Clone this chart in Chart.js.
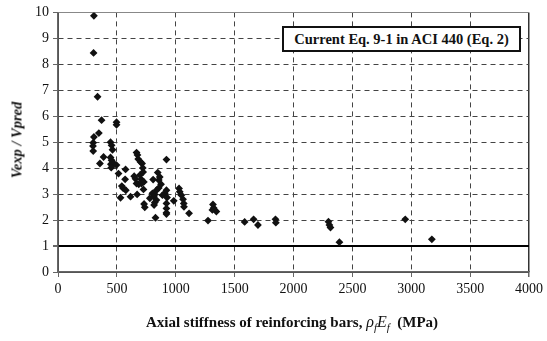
<!DOCTYPE html>
<html><head><meta charset="utf-8">
<script src="https://cdn.jsdelivr.net/npm/chart.js@4/dist/chart.umd.min.js"></script>
<style>
html,body{margin:0;padding:0;background:#fff;}
#wrap{position:relative;width:547px;height:341px;}
#c{position:absolute;left:0;top:0;}
.ytitle{position:absolute;left:17px;top:140px;transform:translate(-50%,-50%) rotate(-90deg);font:bold italic 14.5px "Liberation Serif",serif;color:#111;white-space:nowrap;}
.xtitle{position:absolute;left:292px;top:323px;transform:translate(-50%,-50%);font:bold 15px "Liberation Serif",serif;color:#111;white-space:nowrap;}
.xtitle i{font-weight:normal;font-size:16px;}
.xtitle sub{font-size:11px;font-style:italic;font-weight:normal;}
.legend{position:absolute;left:282px;top:26px;width:235px;height:22px;border:2px solid #111;background:#fff;font:bold 14.5px "Liberation Serif",serif;color:#111;text-align:center;line-height:22px;white-space:nowrap;}
</style></head>
<body><div id="wrap"><canvas id="c" width="547" height="341"></canvas>
<div class="ytitle">Vexp / Vpred</div>
<div class="xtitle">Axial stiffness of reinforcing bars, <i>ρ</i><sub>f</sub><i>E</i><sub>f</sub> &nbsp;(MPa)</div>
<div class="legend">Current Eq. 9-1 in ACI 440 (Eq. 2)</div>
</div>
<script>
const seriesLabel = "Current Eq. 9-1 in ACI 440 (Eq. 2)";
const stiffness = [305,302,336,370,347,305,299,297,299,387,356,
497,497,446,455,463,446,455,449,475,497,452,514,
574,570,542,553,576,531,616,
667,675,681,701,714,720,647,658,695,723,709,667,686,709,729,672,726,731,737,
921,847,864,856,808,875,856,836,822,802,814,780,836,921,907,887,926,822,816,921,921,921,921,983,828,
1028,1034,1048,1062,1068,1070,1113,
1274,1316,1322,1345,1311,
1585,1661,1698,1847,1850,2297,2305,2314,2390,2949,3175];
const ratio = [9.87,8.44,6.75,5.85,5.35,5.2,4.98,4.85,4.66,4.43,4.18,
5.77,5.67,5.0,4.88,4.71,4.41,4.3,4.15,4.18,4.12,4.02,3.79,
3.95,3.57,3.31,3.23,3.15,2.86,2.9,
4.6,4.51,4.35,4.24,4.18,4.01,3.69,3.59,3.73,3.85,3.56,3.41,3.38,3.41,3.47,2.99,3.18,2.62,2.49,
4.33,3.83,3.66,3.54,3.56,3.38,3.24,3.15,2.99,3.03,2.9,2.84,2.77,3.15,3.03,2.96,2.87,2.68,2.58,2.64,2.45,2.28,2.23,2.74,2.09,
3.22,3.09,2.96,2.8,2.64,2.51,2.26,
1.98,2.6,2.47,2.33,2.39,
1.93,2.03,1.81,2.03,1.9,1.94,1.81,1.71,1.15,2.03,1.26];
const xTicks = [0,500,1000,1500,2000,2500,3000,3500,4000];
const yTicks = [0,1,2,3,4,5,6,7,8,9,10];
const refLine = 1;

const pts = stiffness.map((x,i)=>({x:x,y:ratio[i]}));
const tickFont = {family:"Liberation Serif", size:14};
Chart.defaults.font.family = "Liberation Serif";

new Chart(document.getElementById('c'), {
  type:'scatter',
  data:{datasets:[{label:seriesLabel,data:pts,pointStyle:'rectRot',pointRadius:3.9,pointHoverRadius:3.9,
    backgroundColor:'#111',borderColor:'#111',borderWidth:0}]},
  options:{
    responsive:false,animation:false,
    layout:{padding:{left:0,right:17,top:11,bottom:39}},
    plugins:{legend:{display:false},tooltip:{enabled:false}},
    scales:{
      x:{type:'linear',min:0,max:4000,
        afterBuildTicks:s=>{s.ticks=xTicks.map(v=>({value:v}));},
        afterFit:s=>{s.height=30;},
        ticks:{font:tickFont,color:'#111',padding:4,maxRotation:0,callback:v=>String(v)},
        grid:{color:c=>(c.tick&&c.tick.value===4000)?'#333':'#444',lineWidth:c=>(c.tick&&c.tick.value===4000)?1.5:1,
          tickLength:5,tickColor:'#666',tickBorderDash:[]},
        border:{display:true,color:'#666',width:1.5,dash:c=>(c.tick&&(c.tick.value===0||c.tick.value===4000))?[]:[5,4]}
      },
      y:{type:'linear',min:0,max:10,
        afterBuildTicks:s=>{s.ticks=yTicks.map(v=>({value:v}));},
        afterFit:s=>{s.width=58;},
        ticks:{font:tickFont,color:'#111',padding:4,callback:v=>String(v)},
        grid:{color:c=>{if(!c.tick)return '#444';if(c.tick.value===refLine)return '#000';if(c.tick.value===10)return '#888';return '#444';},
          lineWidth:c=>(c.tick&&c.tick.value===refLine)?2:1,
          tickLength:5,tickColor:'#666',tickBorderDash:[]},
        border:{display:true,color:'#666',width:1.5,dash:c=>(c.tick&&(c.tick.value===refLine||c.tick.value===0||c.tick.value===10))?[]:[5,4]}
      }
    }
  }
});
</script>
</body></html>
